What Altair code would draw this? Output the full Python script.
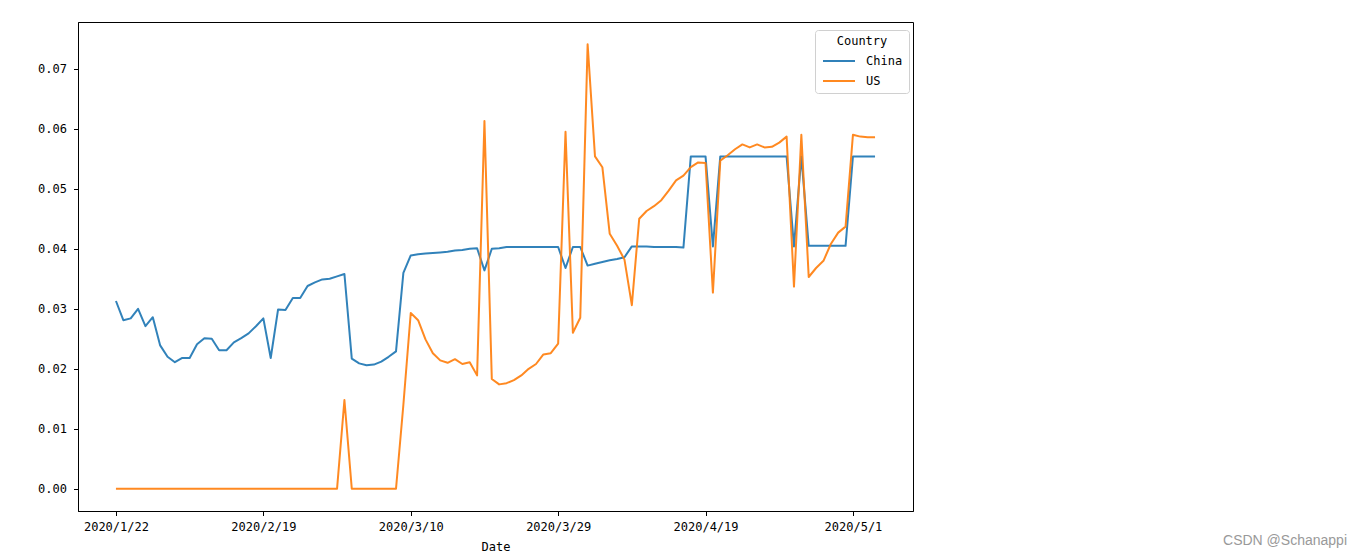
import altair as alt
import pandas as pd

# Dates in the (lexically sorted) order used by the original index
dates = [
    "2020/1/22", "2020/1/23", "2020/1/24", "2020/1/25", "2020/1/26", "2020/1/27",
    "2020/1/28", "2020/1/29", "2020/1/30", "2020/1/31", "2020/2/1", "2020/2/10",
    "2020/2/11", "2020/2/12", "2020/2/13", "2020/2/14", "2020/2/15", "2020/2/16",
    "2020/2/17", "2020/2/18", "2020/2/19", "2020/2/2", "2020/2/20", "2020/2/21",
    "2020/2/22", "2020/2/23", "2020/2/24", "2020/2/25", "2020/2/26", "2020/2/27",
    "2020/2/28", "2020/2/29", "2020/2/3", "2020/2/4", "2020/2/5", "2020/2/6",
    "2020/2/7", "2020/2/8", "2020/2/9", "2020/3/1", "2020/3/10", "2020/3/11",
    "2020/3/12", "2020/3/13", "2020/3/14", "2020/3/15", "2020/3/16", "2020/3/17",
    "2020/3/18", "2020/3/19", "2020/3/2", "2020/3/20", "2020/3/21", "2020/3/22",
    "2020/3/23", "2020/3/24", "2020/3/25", "2020/3/26", "2020/3/27", "2020/3/28",
    "2020/3/29", "2020/3/3", "2020/3/30", "2020/3/31", "2020/3/4", "2020/3/5",
    "2020/3/6", "2020/3/7", "2020/3/8", "2020/3/9", "2020/4/1", "2020/4/10",
    "2020/4/11", "2020/4/12", "2020/4/13", "2020/4/14", "2020/4/15", "2020/4/16",
    "2020/4/17", "2020/4/18", "2020/4/19", "2020/4/2", "2020/4/20", "2020/4/21",
    "2020/4/22", "2020/4/23", "2020/4/24", "2020/4/25", "2020/4/26", "2020/4/27",
    "2020/4/28", "2020/4/29", "2020/4/3", "2020/4/30", "2020/4/4", "2020/4/5",
    "2020/4/6", "2020/4/7", "2020/4/8", "2020/4/9", "2020/5/1", "2020/5/2",
    "2020/5/3", "2020/5/4",
]

china = [
    0.0313, 0.0281, 0.0284, 0.0300, 0.0271, 0.0286, 0.0239, 0.0220, 0.0211, 0.0218,
    0.0218, 0.0241, 0.0251, 0.0250, 0.0231, 0.0231, 0.0244, 0.0251, 0.0259, 0.0271,
    0.0284, 0.0218, 0.0299, 0.0298, 0.0318, 0.0318, 0.0338, 0.0344, 0.0349, 0.0350,
    0.0354, 0.0358, 0.0217, 0.0209, 0.0206, 0.0207, 0.0212, 0.0220, 0.0229, 0.0360,
    0.0389, 0.0391, 0.0392, 0.0393, 0.0394, 0.0395, 0.0397, 0.0398, 0.0400, 0.0401,
    0.0364, 0.0400, 0.0401, 0.0403, 0.0403, 0.0403, 0.0403, 0.0403, 0.0403, 0.0403,
    0.0403, 0.0368, 0.0403, 0.0403, 0.0372, 0.0375, 0.0378, 0.0381, 0.0383, 0.0386,
    0.0404, 0.0404, 0.0404, 0.0403, 0.0403, 0.0403, 0.0403, 0.0402, 0.0554, 0.0554,
    0.0554, 0.0404, 0.0554, 0.0554, 0.0554, 0.0554, 0.0554, 0.0554, 0.0554, 0.0554,
    0.0554, 0.0554, 0.0404, 0.0554, 0.0405, 0.0405, 0.0405, 0.0405, 0.0405, 0.0405,
    0.0554, 0.0554, 0.0554, 0.0554,
]

us = [
    0.0, 0.0, 0.0, 0.0, 0.0, 0.0, 0.0, 0.0, 0.0, 0.0,
    0.0, 0.0, 0.0, 0.0, 0.0, 0.0, 0.0, 0.0, 0.0, 0.0,
    0.0, 0.0, 0.0, 0.0, 0.0, 0.0, 0.0, 0.0, 0.0, 0.0,
    0.0, 0.0148, 0.0, 0.0, 0.0, 0.0, 0.0, 0.0, 0.0, 0.0140,
    0.0293, 0.0281, 0.0249, 0.0226, 0.0214, 0.0210, 0.0216, 0.0208, 0.0211, 0.0189,
    0.0613, 0.0183, 0.0174, 0.0176, 0.0181, 0.0189, 0.0200, 0.0208, 0.0224, 0.0226,
    0.0242, 0.0595, 0.0260, 0.0285, 0.0741, 0.0554, 0.0536, 0.0425, 0.0405, 0.0382,
    0.0306, 0.0450, 0.0463, 0.0471, 0.0481, 0.0497, 0.0514, 0.0522, 0.0536, 0.0544,
    0.0543, 0.0327, 0.0547, 0.0556, 0.0566, 0.0574, 0.0569, 0.0574, 0.0569, 0.0570,
    0.0577, 0.0587, 0.0337, 0.0590, 0.0353, 0.0368, 0.0380, 0.0408, 0.0427, 0.0437,
    0.0590, 0.0587, 0.0586, 0.0586,
]

countries = ["China", "US"]
colors = ["#1f77b4", "#ff7f0e"]
y_ticks = [0.0, 0.01, 0.02, 0.03, 0.04, 0.05, 0.06, 0.07]
x_tick_idx = [0, 20, 40, 60, 80, 100]

rows = []
for name, series in zip(countries, [china, us]):
    for i, (d, v) in enumerate(zip(dates, series)):
        rows.append({"idx": i, "Date": d, "Country": name, "value": v})
df = pd.DataFrame(rows)

label_arr = "[" + ",".join("'%s'" % dates[i] for i in x_tick_idx) + "]"
FONT = "DejaVu Sans Mono"

n = len(dates)
xmin = -0.05 * (n - 1)
xmax = (n - 1) * 1.05
ymax_data = max(max(china), max(us))
ymin = -0.05 * ymax_data
ymax = ymax_data * 1.05

lines = alt.Chart(df).mark_line(strokeWidth=2, strokeJoin="round", opacity=0.92).encode(
    x=alt.X("idx:Q",
            scale=alt.Scale(domain=[xmin, xmax], nice=False, zero=False),
            axis=alt.Axis(values=x_tick_idx, labelExpr=label_arr + "[round(datum.value/20)]",
                          title="Date", grid=False, tickSize=4.5, tickWidth=1,
                          tickColor="black", domainColor="black", domainWidth=1,
                          labelFont=FONT, labelFontSize=12, labelColor="black",
                          labelPadding=6, titleFont=FONT, titleFontSize=12,
                          titleFontWeight="normal", titleColor="black", titlePadding=9,
                          labelFlush=False)),
    y=alt.Y("value:Q",
            scale=alt.Scale(domain=[ymin, ymax], nice=False, zero=False),
            axis=alt.Axis(values=y_ticks, format=".2f", title=None, grid=False,
                          tickSize=4.5, tickWidth=1, tickColor="black",
                          domainColor="black", domainWidth=1, labelFont=FONT,
                          labelFontSize=12, labelColor="black", labelPadding=7,
                          labelFlush=False)),
    color=alt.Color("Country:N",
                    scale=alt.Scale(domain=countries, range=colors),
                    legend=alt.Legend(
                        title="Country", orient="none", legendX=737, legendY=8,
                        titleAnchor="middle", titleFont=FONT, titleFontSize=12,
                        titleFontWeight="normal", titleColor="black", titlePadding=7,
                        labelFont=FONT, labelFontSize=12, labelColor="black",
                        symbolType="M-1,0L7,0", symbolSize=64,
                        symbolStrokeWidth=2, labelOffset=33, rowPadding=8,
                        strokeColor="#d0d0d0", cornerRadius=3, fillColor="white",
                        padding=6)),
    detail="Country:N",
)

watermark = alt.Chart(pd.DataFrame({"t": ["CSDN @Schanappi"]})).mark_text(
    align="right", baseline="middle", font="Liberation Sans", fontSize=14,
    color="#999999"
).encode(text="t:N", x=alt.value(1269), y=alt.value(519))

chart = alt.layer(lines, watermark).properties(
    width=835, height=489,
    autosize=alt.AutoSizeParams(type="none"),
    padding={"left": 78, "top": 22, "right": 448, "bottom": 48},
).configure(background="white").configure_view(stroke="black", strokeWidth=1)

chart.save("out.html", embed_options={"renderer": "svg", "actions": False})
